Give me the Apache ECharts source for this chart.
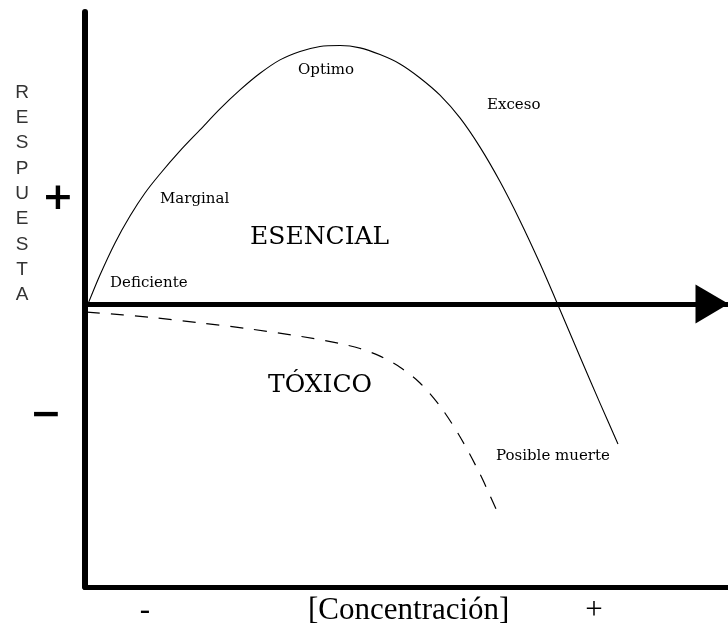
<!DOCTYPE html>
<html>
<head>
<meta charset="utf-8">
<script src="https://cdn.jsdelivr.net/npm/echarts@6/dist/echarts.min.js"></script>
<style>
html,body{margin:0;padding:0;background:#fff;}
#chart{width:728px;height:629px;}
</style>
</head>
<body>
<div id="chart"></div>
<script>
// curva de respuesta (esencial) - [concentracion, respuesta]
var esencial=[[0.47,0],[2.33,9.9],[4.67,20.9],[7.0,30.1],[9.33,38.0],[11.66,44.5],[14.77,52.4],
	[17.88,59.6],[20.99,66.8],[24.11,73.3],[27.22,79.0],[30.33,83.6],[33.44,86.5],[36.55,88.2],
	[39.66,88.5],[42.77,87.7],[45.88,85.4],[48.99,82.2],[52.1,77.4],[55.21,71.5],[58.32,63.7],
	[61.43,53.7],[64.54,41.9],[67.65,28.5],[70.76,13.8],[73.87,-2.0],[76.98,-18.1],[80.09,-34.0],
	[82.89,-48.0]];
// curva toxico (linea discontinua)
var toxico=[[0.31,-2.8],[10.11,-4.6],[17.88,-6.5],[25.66,-8.6],[33.44,-11.1],[39.66,-13.6],
	[42.77,-15.3],[45.88,-17.9],[48.99,-21.7],[52.1,-27.1],[55.21,-35.0],[58.32,-45.5],
	[61.43,-58.3],[64.07,-71.0]];
var ejeX=['-','[Concentración]','+'];
var ejeY='RESPUESTA';
var signos=['+','−'];

var serif='"DejaVu Serif", serif';
var times='"Liberation Serif", "Times New Roman", serif';

function txt(text,x,y,font,align,extra){
	var style={text:text,font:font,fill:'#000',textAlign:align||'left',textVerticalAlign:'middle'};
	if(extra){for(var k in extra){style[k]=extra[k];}}
	return {type:'text',x:x,y:y,z:10,style:style};
}

var myChart=echarts.init(document.getElementById('chart'));
var option={
	backgroundColor:'#fff',
	animation:false,
	grid:{left:85,right:0,top:12,bottom:42},
	xAxis:[
		{
			type:'value',min:0,max:100,
			axisLine:{onZero:true,lineStyle:{color:'#000',width:5},symbol:['none','triangle'],symbolSize:[39,33],symbolOffset:[0,-16]},
			axisTick:{show:false},axisLabel:{show:false},splitLine:{show:false}
		},
		{
			type:'value',min:0,max:100,position:'bottom',
			axisLine:{onZero:false,lineStyle:{color:'#000',width:5}},
			axisTick:{show:false},axisLabel:{show:false},splitLine:{show:false}
		}
	],
	yAxis:{
		type:'value',min:-97,max:100,
		axisLine:{onZero:false,lineStyle:{color:'#000',width:6,cap:'round'}},
		axisTick:{show:false},axisLabel:{show:false},splitLine:{show:false}
	},
	series:[
		{
			name:'Esencial',type:'line',data:esencial,smooth:0.3,symbol:'none',
			lineStyle:{color:'#000',width:1.1}
		},
		{
			name:'Tóxico',type:'line',data:toxico,smooth:0.3,symbol:'none',
			lineStyle:{color:'#000',width:1.2,type:[13,11]}
		}
	],
	graphic:[
		txt(ejeY.split('').join('\n'),22,80,'19px "Liberation Sans", Arial, sans-serif','center',{textVerticalAlign:'top',lineHeight:25.3,fill:'#333'}),
		txt(signos[0],58,199,'bold 38px "DejaVu Sans", sans-serif','center'),
		txt(signos[1],46,416,'bold 38px "DejaVu Sans", sans-serif','center'),
		txt('Deficiente',110,283,'15px '+serif),
		txt('Marginal',160,199,'15px '+serif),
		txt('ESENCIAL',250,237,'25px '+serif),
		txt('Optimo',298,70,'15px '+serif),
		txt('Exceso',487,105,'15px '+serif),
		txt('TÓXICO',268,385,'25px '+serif),
		txt('Posible muerte',496,456,'15px '+serif),
		txt(ejeX[0],145,611,'31px '+times,'center'),
		txt(ejeX[1],308,611,'31px '+times,'left'),
		txt(ejeX[2],594,611,'31px '+times,'center')
	]
};
myChart.setOption(option);
</script>
</body>
</html>
